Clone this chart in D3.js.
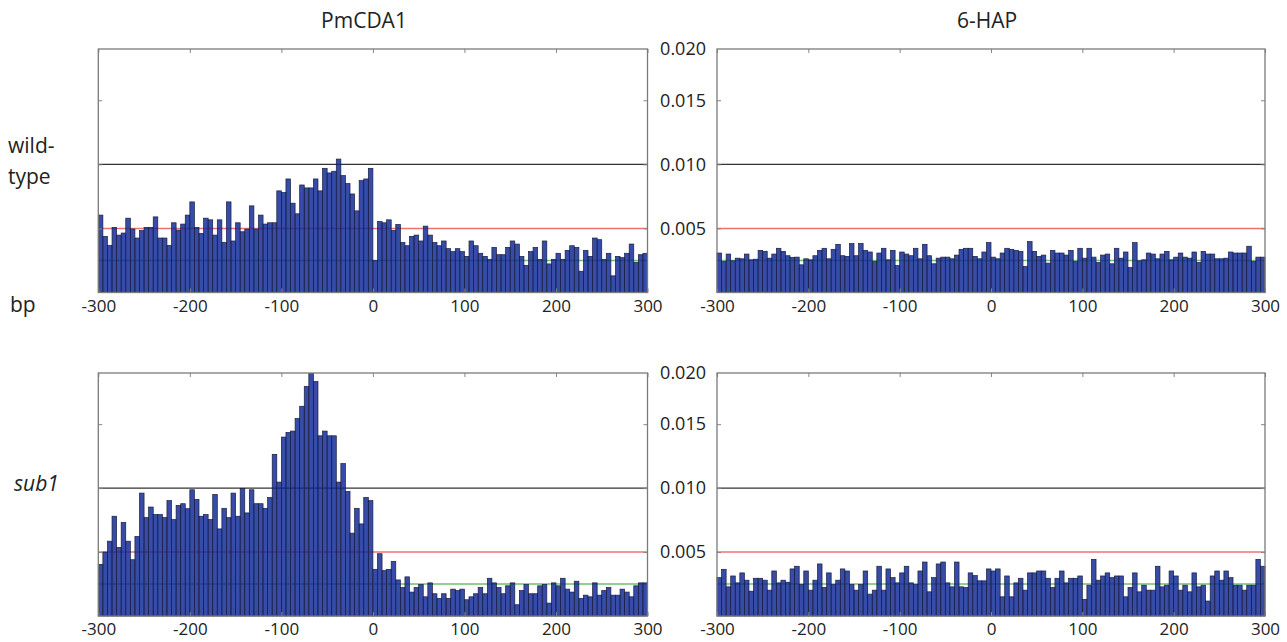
<!DOCTYPE html>
<html>
<head>
<meta charset="utf-8">
<script src="https://cdn.jsdelivr.net/npm/d3@7"></script>
<style>
  body { margin: 0; background: #fff; }
  text { font-family: 'Open Sans', 'DejaVu Sans', sans-serif; fill: #222; }
</style>
</head>
<body>
<script>
// bins of 5 bp from -300 to 300
var binStarts = d3.range(-300, 300, 5);
var binWidth = 5;

// mutation frequency per bin, in units of 10^-3
var wildPmCDA1 = [
  6.04,4.38,3.68,5.08,4.48,4.64,5.80,4.95,4.25,4.84,
  5.08,5.08,5.90,4.25,4.25,3.68,5.44,4.87,5.34,6.04,
  7.07,5.08,4.61,5.80,5.67,4.48,5.67,3.91,7.07,4.02,
  5.44,4.74,4.95,6.76,4.95,6.04,5.34,5.44,5.44,7.93,
  7.80,8.86,6.97,6.14,8.39,8.16,8.16,8.86,7.93,9.69,
  9.33,9.46,10.41,9.12,8.50,7.69,6.37,8.73,8.86,9.69,
  2.49,5.54,5.44,5.67,4.84,5.31,3.91,3.65,4.38,4.48,
  4.02,5.18,4.48,3.91,3.65,4.02,3.42,3.19,3.42,3.19,
  2.82,4.02,3.65,3.06,2.82,2.59,3.52,2.95,2.95,3.52,
  4.02,3.78,2.82,2.12,3.19,3.52,2.59,4.02,2.23,2.59,
  3.06,2.59,3.29,3.65,3.52,1.66,3.29,2.82,4.25,4.12,
  2.59,3.06,1.30,2.82,2.72,3.06,3.78,2.36,2.95,3.06
];
var wild6HAP = [
  3.08,2.42,3.00,2.47,2.68,2.63,3.00,2.55,2.60,3.29,
  3.21,2.68,3.00,3.45,3.21,2.87,2.74,2.76,2.16,2.63,
  2.55,2.87,3.29,3.45,2.63,3.37,3.76,2.87,2.82,3.82,
  2.87,3.82,3.29,3.16,2.42,3.08,3.45,2.55,3.29,2.10,
  3.16,3.00,2.87,3.45,2.63,3.76,2.87,2.24,2.68,2.76,
  2.76,2.63,2.92,3.37,3.45,3.45,2.82,2.63,3.16,3.89,
  2.76,2.63,3.08,3.45,3.37,3.29,3.21,2.03,3.97,3.21,
  2.82,2.92,2.29,3.29,3.08,3.08,2.92,3.29,2.42,3.45,
  2.68,3.45,2.76,2.34,2.92,3.00,2.24,3.45,2.68,3.16,
  1.95,3.89,2.47,2.55,3.08,3.00,2.63,3.00,3.21,2.55,
  2.76,3.08,2.76,2.68,3.16,2.34,3.21,3.00,3.00,2.63,
  2.63,2.68,3.16,3.08,3.08,3.08,3.61,2.42,2.76,2.76
];
var sub1PmCDA1 = [
  4.04,5.00,5.85,7.80,5.36,7.31,5.85,4.40,6.22,9.61,
  7.69,8.52,7.93,7.93,7.69,9.02,7.54,8.65,8.78,8.39,
  9.87,9.12,7.80,7.93,7.54,9.51,6.81,8.42,7.69,9.61,
  7.80,9.97,8.06,9.87,8.78,8.78,8.42,9.27,12.64,10.47,
  13.99,14.35,14.46,15.44,16.40,17.95,18.95,18.34,14.09,14.46,
  14.09,14.09,10.47,11.92,9.74,6.48,8.42,7.20,9.27,9.02,
  3.65,4.87,3.55,3.65,4.27,2.82,2.23,3.06,1.87,2.23,
  2.46,1.50,2.59,1.74,1.37,1.74,1.37,2.10,1.99,2.10,
  1.27,1.50,1.74,2.23,1.74,2.95,2.59,2.23,1.74,2.36,
  2.59,0.88,1.99,2.46,1.74,1.74,2.36,2.46,1.01,2.59,
  2.36,2.95,2.10,1.87,2.72,1.37,1.63,1.50,2.59,1.63,
  1.99,2.23,1.63,1.63,2.10,1.87,1.50,2.36,2.59,2.59
];
var sub16HAP = [
  3.00,3.65,2.28,3.13,2.59,3.37,2.80,1.94,2.95,2.95,
  2.80,2.02,3.52,2.59,2.80,2.64,3.68,3.89,2.46,3.52,
  2.02,2.80,4.07,2.23,3.37,2.46,2.80,3.68,3.52,2.46,
  2.02,2.46,3.52,1.71,2.02,3.89,2.02,3.68,3.00,2.59,
  3.37,3.89,2.59,2.46,3.52,4.22,1.89,3.00,4.07,4.22,
  2.59,2.28,4.22,2.28,2.23,3.37,3.16,2.75,2.75,3.68,
  3.52,3.68,1.50,3.13,1.50,2.59,2.95,2.02,3.37,3.37,
  3.52,3.52,2.95,2.23,2.95,3.52,2.59,2.95,2.95,3.13,
  1.30,2.41,4.43,2.80,3.13,3.37,3.00,3.13,3.13,1.50,
  2.23,3.37,1.89,2.41,2.02,2.02,3.89,2.28,2.41,3.52,
  3.13,2.02,2.41,1.89,3.37,2.28,2.41,1.17,3.13,3.52,
  2.80,3.52,3.00,2.41,2.41,2.02,2.41,2.41,4.43,3.89
];

var xTicks = [-300, -200, -100, 0, 100, 200, 300];
var xTickLabels = ['-300', '-200', '-100', '0', '100', '200', '300'];
var yTickValues = [5, 10, 15, 19];
var yTickLabels = ['0.005', '0.010', '0.015', '0.020'];
var yMax = 19;

// horizontal reference lines (x10^-3), drawn under the see-through bars
var refLines = [
  { value: 10, color: '#333', width: 1.1 },
  { value: 5, color: '#f07070', width: 1.5 },
  { value: 2.5, color: '#6cc06c', width: 1.5 }
];

var columnTitles = ['PmCDA1', '6-HAP'];

var width = 1287, height = 642;

var svg = d3.select('body').append('svg')
  .attr('width', width)
  .attr('height', height);

var cols = [{ x0: 98.3, x1: 647.5 }, { x0: 717, x1: 1265 }];
var rows = [{ y0: 49, y1: 292.5 }, { y0: 373, y1: 616 }];

var panels = [
  { data: wildPmCDA1, col: 0, row: 0 },
  { data: wild6HAP, col: 1, row: 0 },
  { data: sub1PmCDA1, col: 0, row: 1 },
  { data: sub16HAP, col: 1, row: 1 }
];

panels.forEach(function(p) {
  var c = cols[p.col], r = rows[p.row];

  var x = d3.scaleLinear().domain([-300, 300]).range([c.x0, c.x1]);
  var y = d3.scaleLinear().domain([0, yMax]).range([r.y1, r.y0]);

  var g = svg.append('g');

  // reference lines
  g.append('g').selectAll('line').data(refLines)
    .enter().append('line')
    .attr('x1', c.x0)
    .attr('x2', c.x1)
    .attr('y1', function(d) { return y(d.value); })
    .attr('y2', function(d) { return y(d.value); })
    .attr('stroke', function(d) { return d.color; })
    .attr('stroke-width', function(d) { return d.width; });

  // bars, a little transparent so the lines show through
  g.append('g').selectAll('rect').data(p.data)
    .enter().append('rect')
    .attr('x', function(d, i) { return x(binStarts[i]); })
    .attr('width', function(d, i) { return x(binStarts[i] + binWidth) - x(binStarts[i]); })
    .attr('y', function(d) { return y(Math.min(d, yMax)); })
    .attr('height', function(d) { return y(0) - y(Math.min(d, yMax)); })
    .attr('fill', '#0f2a96')
    .attr('fill-opacity', 0.84)
    .attr('stroke', '#1a1d40')
    .attr('stroke-width', 0.7);

  // inward ticks on every side
  var bottomAxis = g.append('g')
    .attr('transform', 'translate(0,' + r.y1 + ')')
    .call(d3.axisBottom(x).tickValues(xTicks).tickSize(-4).tickPadding(7)
      .tickFormat(function(d, i) { return xTickLabels[i]; }));
  g.append('g')
    .attr('transform', 'translate(0,' + r.y0 + ')')
    .call(d3.axisTop(x).tickValues(xTicks).tickSize(-4).tickFormat(''));
  var leftAxis = g.append('g')
    .attr('transform', 'translate(' + c.x0 + ',0)')
    .call(d3.axisLeft(y).tickValues(yTickValues.slice(0, 3)).tickSize(-4).tickPadding(11)
      .tickFormat(function(d, i) { return yTickLabels[i]; }));
  g.append('g')
    .attr('transform', 'translate(' + c.x1 + ',0)')
    .call(d3.axisRight(y).tickValues(yTickValues.slice(0, 3)).tickSize(-4).tickFormat(''));

  g.selectAll('.domain').remove();
  g.selectAll('.tick line').attr('stroke', '#888');

  bottomAxis.selectAll('text')
    .attr('font-size', 17)
    .attr('font-family', "'Open Sans', sans-serif")
    .attr('fill', '#222');

  if (p.col === 1) {
    // top label sits at the box edge
    leftAxis.append('g').attr('class', 'tick')
      .attr('transform', 'translate(0,' + y(yTickValues[3]) + ')')
      .append('text')
      .attr('x', -11)
      .attr('dy', '0.32em')
      .attr('text-anchor', 'end')
      .text(yTickLabels[3]);
    leftAxis.selectAll('text')
      .attr('font-size', 18)
      .attr('font-family', "'Open Sans', sans-serif")
      .attr('fill', '#222');
  } else {
    leftAxis.selectAll('text').remove();
  }

  // box
  g.append('rect')
    .attr('x', c.x0)
    .attr('y', r.y0)
    .attr('width', c.x1 - c.x0)
    .attr('height', r.y1 - r.y0)
    .attr('fill', 'none')
    .attr('stroke', '#7a7a7a')
    .attr('stroke-width', 1.3);
});

// column titles
svg.selectAll('.coltitle').data(columnTitles)
  .enter().append('text')
  .attr('class', 'coltitle')
  .attr('x', function(d, i) { return i === 0 ? 364 : 987; })
  .attr('y', 28)
  .attr('text-anchor', 'middle')
  .attr('font-size', 21)
  .text(function(d) { return d; });

// row labels
svg.append('text').attr('x', 8).attr('y', 153).attr('font-size', 21).text('wild-');
svg.append('text').attr('x', 8).attr('y', 184).attr('font-size', 21).text('type');
svg.append('text').attr('x', 10).attr('y', 312).attr('font-size', 21).text('bp');
svg.append('text').attr('x', 14).attr('y', 491).attr('font-size', 21)
  .attr('font-style', 'italic').text('sub1');
</script>
</body>
</html>
